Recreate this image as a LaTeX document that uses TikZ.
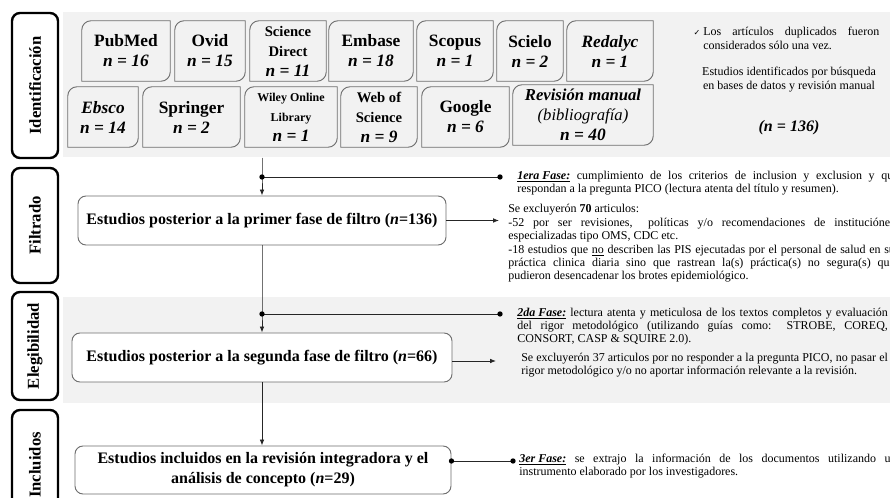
\documentclass[tikz,border=0pt]{standalone}
\usepackage{fontspec}
\setmainfont{Liberation Serif}
\newfontfamily\symfont{DejaVu Sans}
\usetikzlibrary{arrows.meta,positioning,calc}
\tikzset{>={Latex[length=4.5pt,width=3.5pt]}}

\definecolor{bandgray}{HTML}{F2F2F2}
\definecolor{boxline}{HTML}{6E6E6E}

\newcommand{\nval}[1]{\fontsize{13}{15}\selectfont\bfseries\itshape n = #1}
\newcommand{\dbsmall}{\fontsize{11}{13}\selectfont\bfseries}
\newcommand{\fase}[1]{\underline{\textbf{\textit{#1}}}}
\newcommand{\jl}[2][281pt]{\makebox[#1][s]{#2}}
\newcommand{\dbframe}[1]{%
  \draw[dbline] (#1.north) [rounded corners=7pt] -- (#1.north west) [sharp corners] -- (#1.south west)
    [rounded corners=7pt] -- (#1.south east) [sharp corners] -- (#1.north east) -- cycle;}

\tikzset{
  sidelab/.style={draw, line width=1.8pt, rounded corners=6pt, rotate=90, fill=white,
    minimum height=34.5pt, font=\fontsize{12.5}{14}\selectfont\bfseries},
  band/.style={fill=bandgray, anchor=north west, inner sep=0pt},
  db/.style={align=center, minimum height=45pt, inner sep=0pt, font=\fontsize{13}{15}\selectfont\bfseries},
  dbline/.style={draw=boxline, line width=0.7pt},
  stage/.style={draw=boxline, line width=0.7pt, rounded corners=6pt, fill=white, align=center,
    minimum height=36.75pt, font=\fontsize{12}{15}\selectfont\bfseries},
  note/.style={anchor=base west, inner sep=0pt, align=left, font=\fontsize{9}{10.1}\selectfont},
  link/.style={draw=black!85, line width=0.6pt},
  dot/.style={circle, fill=black, inner sep=0pt, minimum size=4pt}
}

\begin{document}
\begin{tikzpicture}[x=0.75pt,y=-0.75pt]
  \path[fill=white, use as bounding box] (0,0) rectangle (890,498);
  \clip (0,0) rectangle (890,498);

  % gray bands
  \node[band, minimum width=620.25pt, minimum height=108.75pt] (idband) at (63,12) {};
  \node[band, minimum width=620.25pt, minimum height=79.5pt] (elband) at (63,297) {};

  % stage labels
  \node[sidelab, minimum width=108.75pt] (ident) at (35,85.5) {Identificación};
  \node[sidelab, minimum width=86.25pt] (filt) at (35,225.5) {Filtrado};
  \node[sidelab, minimum width=81pt] (eleg) at (35,346) {Elegibilidad};
  \node[sidelab, minimum width=82.5pt] (incl) at (35,465) {Incluidos};

  % data bases, first row
  \node[db, minimum width=66pt] (pubmed) at (126,51) {PubMed\\ \nval{16}};
  \node[db, minimum width=52.5pt] (ovid) at (210,51) {Ovid\\ \nval{15}};
  \node[db, minimum width=57pt] (scidir) at (288,51) {\dbsmall Science\\ \dbsmall Direct\\ \nval{11}};
  \node[db, minimum width=63pt] (embase) at (371,51) {Embase\\ \nval{18}};
  \node[db, minimum width=57pt] (scopus) at (455,51) {Scopus\\ \nval{1}};
  \node[db, minimum width=49.5pt] (scielo) at (530,51) {Scielo\\ \nval{2}};
  \node[db, minimum width=64.5pt] (redalyc) at (610,51) {\textit{Redalyc}\\ \nval{1}};

  % data bases, second row
  \node[db, minimum width=52.5pt] (ebsco) at (103,117) {\textit{Ebsco}\\ \nval{14}};
  \node[db, minimum width=72.75pt] (springer) at (191.5,117) {Springer\\ \nval{2}};
  \node[db, minimum width=69pt] (wiley) at (291,117)
    {\fontsize{9}{14}\selectfont\bfseries Wiley Online\\ \fontsize{9}{14}\selectfont\bfseries Library\\ \nval{1}};
  \node[db, minimum width=57pt] (wos) at (379,117) {\dbsmall Web of\\ \dbsmall Science\\ \nval{9}};
  \node[db, minimum width=65.25pt] (google) at (465.5,117) {Google\\ \nval{6}};
  \node[db, minimum width=105pt] (manual) at (583,115)
    {\fontsize{12.5}{13.5}\selectfont\bfseries\itshape Revisión manual\\
     \fontsize{12.5}{13.5}\selectfont\mdseries\itshape (bibliografía)\\
     \fontsize{13}{13.5}\selectfont\bfseries\itshape n = 40};

  \foreach \b in {pubmed,ovid,scidir,embase,scopus,scielo,redalyc,
                  ebsco,springer,wiley,wos,google,manual}
    {\dbframe{\b}}

  % text on the right of the first band
  \node[inner sep=0pt, font=\symfont\fontsize{6}{8}\selectfont] (tick) at (697,32.5) {✓};
  \node[anchor=base west, inner sep=0pt, align=left, font=\fontsize{9}{10.5}\selectfont] (dupl) at (703,50)
    {\jl[132pt]{Los artículos duplicados fueron}\\ considerados sólo una vez.};
  \node[align=center, font=\fontsize{9}{10.5}\selectfont] (idtext) at (789,80)
    {Estudios identificados por búsqueda\\ en bases de datos y revisión manual};
  \node[font=\fontsize{12}{14}\selectfont\bfseries\itshape] (total) at (789,128) {(n = 136)};

  % stage boxes
  \node[stage, minimum width=276pt] (f1) at (262,220.5)
    {Estudios posterior a la primer fase de filtro (\textit{n}=136)};
  \node[stage, minimum width=285pt] (f2) at (262,357.5)
    {Estudios posterior a la segunda fase de filtro (\textit{n}=66)};
  \node[stage, minimum width=282pt, minimum height=36pt] (f3) at (263,470)
    {Estudios incluidos en la revisión integradora y el\\ análisis de concepto (\textit{n}=29)};

  % notes (anchored on their last line)
  \node[note] (fase1) at (517,193)
    {\jl[286pt]{\fase{1era Fase:} cumplimiento de los criterios de inclusion y exclusion y que}\\
     respondan a la pregunta PICO (lectura atenta del título y resumen).};
  \node[note] (excl1) at (508,280)
    {Se excluyerón \textbf{70} articulos:\\
     \jl[290pt]{-52 por ser revisiones,\hspace{4pt} políticas y/o recomendaciones de instituciónes}\\
     especializadas tipo OMS, CDC etc.\\
     \jl[290pt]{-18 estudios que \underline{no} describen las PIS ejecutadas por el personal de salud en su}\\
     \jl[290pt]{práctica clinica diaria sino que rastrean la(s) práctica(s) no segura(s) que}\\
     pudieron desencadenar los brotes epidemiológico.};
  \node[note] (fase2) at (517,343)
    {\jl[278pt]{\fase{2da Fase:} lectura atenta y meticulosa de los textos completos y evaluación}\\
     \jl[278pt]{del rigor metodológico (utilizando guías como: STROBE, COREQ,}\\
     CONSORT, CASP \& SQUIRE 2.0).};
  \node[note] (excl2) at (521,375)
    {\jl[275pt]{Se excluyerón 37 articulos por no responder a la pregunta PICO, no pasar el}\\
     rigor metodológico y/o no aportar información relevante a la revisión.};
  \node[note] (fase3) at (519,475.5)
    {\jl[283pt]{\fase{3er Fase:} se extrajo la información de los documentos utilizando un}\\
     instrumento elaborado por los investigadores.};

  % junctions
  \coordinate (j1) at (262,177);
  \coordinate (d1) at (500,177);
  \coordinate (a1) at (499,220.5);
  \coordinate (j2) at (262,314);
  \coordinate (d2) at (500,314);
  \coordinate (a2) at (496,361);
  \coordinate (j3) at (453,461);
  \coordinate (d3) at (513,461);

  % connectors
  \draw[link, ->] (idband.south -| j1) -- (j1) -- (f1.north);
  \draw[link] (j1) -- (d1);
  \draw[link, ->] (f1.east) -- (a1);
  \draw[link, ->] (f1.south) -- (j2) -- (f1.south |- f2.north);
  \draw[link] (j2) -- (d2);
  \draw[link, ->] (f2.east |- a2) -- (a2);
  \draw[link, ->] (f2.south -| f1.south) -- (f1.south |- f3.north);
  \draw[link] (f3.east |- j3) -- (d3);

  \foreach \p in {j1,d1,j2,d2,d3}
    \node[dot] at (\p) {};
  \node[dot] at (f3.east |- j3) {};
\end{tikzpicture}
\end{document}
